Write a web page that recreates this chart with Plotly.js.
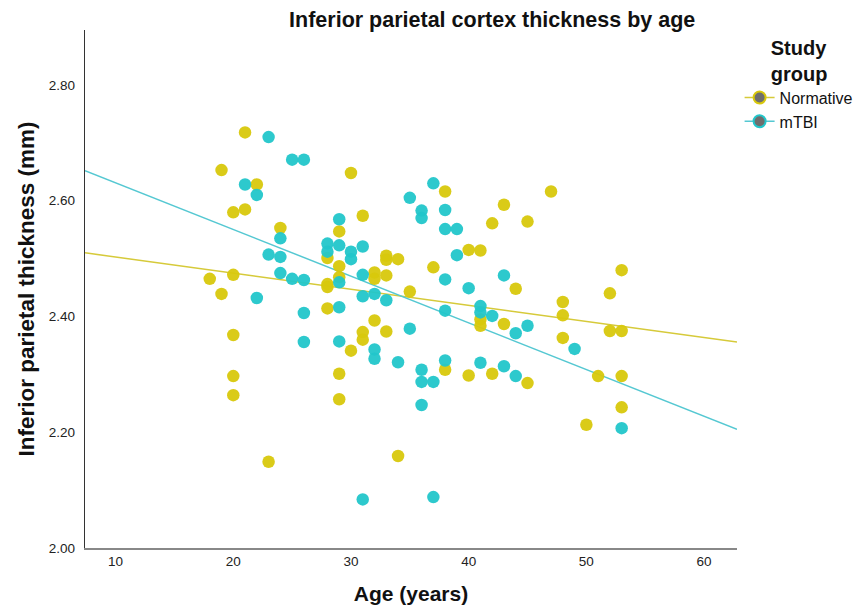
<!DOCTYPE html>
<html>
<head>
<meta charset="utf-8">
<script src="https://cdn.plot.ly/plotly-3.0.1.min.js"></script>
<style>html,body{margin:0;padding:0;background:#fff;}#chart{width:862px;height:608px;}</style>
</head>
<body>
<div id="chart"></div>
<script>
// Normative group (age, thickness)
const normAge = [18,19,19,20,20,20,20,20,21,21,22,23,24,
  28,28,28,28,29,29,29,29,29,30,30,31,31,31,32,32,32,33,33,33,33,34,34,35,37,38,38,
  40,40,41,41,41,42,42,43,43,44,45,45,47,48,48,48,50,51,52,52,53,53,53,53];
const normThk = [2.465,2.653,2.439,2.580,2.472,2.368,2.297,2.264,2.718,2.585,2.628,2.149,2.553,
  2.501,2.456,2.451,2.414,2.547,2.487,2.468,2.301,2.257,2.648,2.341,2.574,2.373,2.360,2.476,2.465,2.393,2.505,2.498,2.471,2.374,2.499,2.159,2.443,2.485,2.616,2.308,
  2.515,2.298,2.514,2.395,2.384,2.561,2.301,2.593,2.387,2.448,2.564,2.285,2.616,2.425,2.402,2.363,2.213,2.297,2.440,2.375,2.480,2.375,2.297,2.243];

// mTBI group (age, thickness)
const tbiAge = [21,22,22,23,23,24,24,24,25,25,26,26,26,26,28,28,29,29,29,29,29,30,30,
  31,31,31,31,32,32,32,33,34,35,35,36,36,36,36,36,37,37,37,38,38,38,38,38,39,39,
  40,41,41,41,42,43,43,44,44,45,49,53];
const tbiThk = [2.628,2.610,2.432,2.710,2.507,2.535,2.503,2.475,2.671,2.465,2.671,2.463,2.406,2.356,2.526,2.512,2.568,2.523,2.459,2.416,2.357,2.512,2.499,
  2.521,2.472,2.435,2.084,2.439,2.343,2.327,2.428,2.321,2.605,2.379,2.583,2.570,2.308,2.287,2.247,2.630,2.287,2.088,2.584,2.551,2.464,2.410,2.324,2.551,2.506,
  2.449,2.418,2.407,2.320,2.401,2.471,2.314,2.371,2.297,2.384,2.344,2.207];

// Fit lines (at axis ends)
const fitX = [7.4, 62.8];
const fitNorm = [2.510, 2.356];
const fitTbi = [2.652, 2.205];

const yellow = '#D8C80C';
const cyan = '#22C6CA';
const yellowLine = '#D6CA3A';
const cyanLine = '#55C8D2';

const traces = [
  {x: fitX, y: fitNorm, mode: 'lines', line: {color: yellowLine, width: 1.5}, showlegend: false, hoverinfo: 'skip'},
  {x: fitX, y: fitTbi, mode: 'lines', line: {color: cyanLine, width: 1.5}, showlegend: false, hoverinfo: 'skip'},
  {x: normAge, y: normThk, mode: 'markers', marker: {color: yellow, size: 12.5, opacity: 0.95}, showlegend: false},
  {x: tbiAge, y: tbiThk, mode: 'markers', marker: {color: cyan, size: 12.5, opacity: 0.95}, showlegend: false},
  {x: [null], y: [null], name: 'Normative', mode: 'lines+markers',
   line: {color: yellowLine, width: 1.5}, marker: {color: '#6e6e6e', size: 12, line: {color: yellow, width: 2}}},
  {x: [null], y: [null], name: 'mTBI', mode: 'lines+markers',
   line: {color: cyanLine, width: 1.5}, marker: {color: '#6e6e6e', size: 12, line: {color: cyan, width: 2}}}
];

const font = 'Liberation Sans, Arial, sans-serif';
const layout = {
  width: 862, height: 608,
  margin: {l: 85, r: 125, t: 30, b: 60},
  paper_bgcolor: '#fff', plot_bgcolor: '#fff',
  font: {family: font, color: '#111'},
  title: {text: '<b>Inferior parietal cortex thickness by age</b>', font: {size: 21.5, color: '#111'},
          x: 0.571, xanchor: 'center', y: 0.968, yanchor: 'middle'},
  xaxis: {
    range: [7.4, 62.8], tickvals: [10,20,30,40,50,60], ticktext: ['10','20','30','40','50','60'],
    showgrid: false, zeroline: false, showline: true, linecolor: '#888', linewidth: 1.5,
    ticks: '', tickfont: {size: 13.5, color: '#222'},
    title: {text: '<b>Age (years)</b>', font: {size: 21, color: '#111'}, standoff: 18}
  },
  yaxis: {
    range: [2.0, 2.895], tickvals: [2.0,2.2,2.4,2.6,2.8], ticktext: ['2.00','2.20','2.40','2.60','2.80'],
    showgrid: false, zeroline: false, showline: true, linecolor: '#333', linewidth: 1.2,
    ticks: 'outside', ticklen: 6, tickcolor: 'rgba(0,0,0,0)', tickfont: {size: 13.5, color: '#222'},
    title: {text: '<b>Inferior parietal thickness (mm)</b>', font: {size: 22.5, color: '#111'}, standoff: 8}
  },
  showlegend: true,
  legend: {
    xref: 'container', yref: 'container',
    x: 0.858, xanchor: 'left', y: 0.953, yanchor: 'top',
    title: {text: '<b>Study<br>group</b>', font: {size: 20, color: '#111'}, side: 'top center'},
    font: {size: 16, color: '#111'}, itemwidth: 30, tracegroupgap: 0, bgcolor: 'rgba(0,0,0,0)'
  }
};

Plotly.newPlot('chart', traces, layout, {displayModeBar: false, staticPlot: true});
</script>
</body>
</html>
